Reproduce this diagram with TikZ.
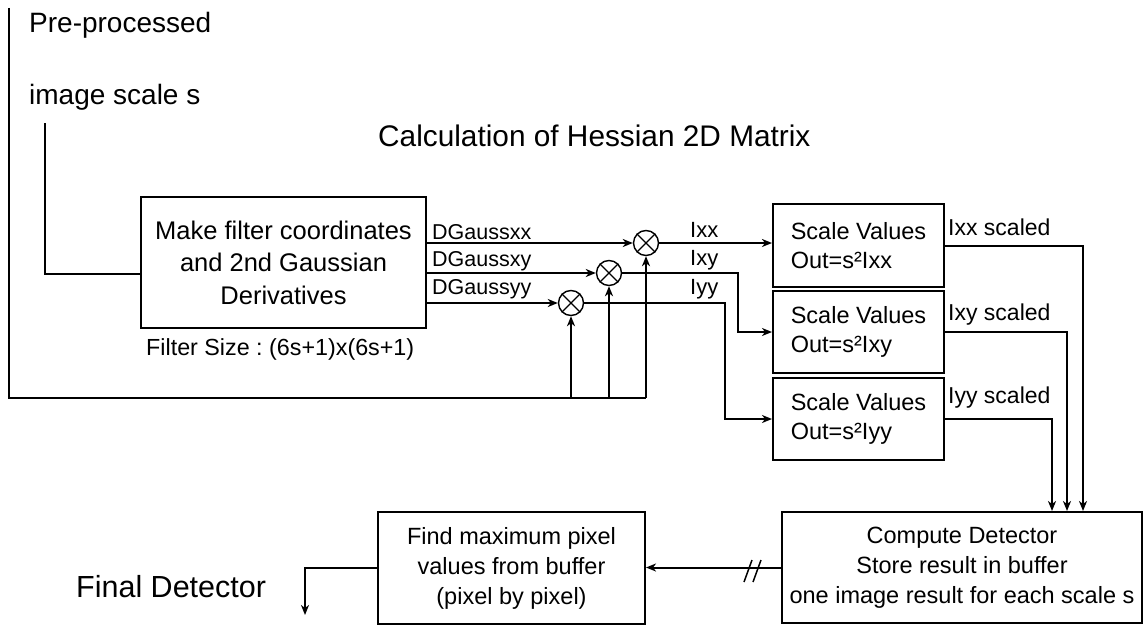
\documentclass[tikz,border=0pt]{standalone}
\usepackage{fontspec}
\setmainfont{Liberation Sans}
\usetikzlibrary{arrows.meta,calc}
\tikzset{
  box/.style={draw, line width=2pt, inner sep=0pt, align=center},
  mult/.style={draw, circle, line width=1.4pt, minimum size=25pt, inner sep=0pt},
  conn/.style={line width=2pt},
  arr/.style={conn, -{Stealth[length=10pt,width=8pt,inset=3pt]}},
  lbl/.style={anchor=base west, inner sep=0pt},
  bigtxt/.style={font=\fontsize{28}{34}\selectfont},
  boxtxt/.style={font=\fontsize{23.5}{30}\selectfont},
  smalltxt/.style={font=\fontsize{21.5}{26}\selectfont},
}
\frenchspacing
\begin{document}
\begin{tikzpicture}[x=1pt,y=-1pt]
\useasboundingbox (0,0) rectangle (1145,626);
% texts
\node[lbl,bigtxt] (pre) at (29,33) {Pre-processed};
\node[lbl,bigtxt] (isc) at (29,104) {image scale s};
\node[lbl,font=\fontsize{29.8}{34}\selectfont] (title) at (378,146) {Calculation of Hessian 2D Matrix};
\node[lbl,font=\fontsize{30.5}{34}\selectfont] (final) at (76,597) {Final Detector};
% boxes
\node[box,minimum width=285pt,minimum height=131pt,font=\fontsize{25.5}{32.5}\selectfont] (mf) at (283.5,262.5) {Make filter coordinates\\and 2nd Gaussian\\Derivatives};
\node[lbl,font=\fontsize{23.3}{26}\selectfont] (fs) at (146,355) {Filter Size : (6s+1)x(6s+1)};
\node[box,boxtxt,align=left,minimum width=171pt,minimum height=83pt,font=\fontsize{23.5}{29}\selectfont] (sc1) at (858.5,245.5) {Scale Values\\Out=s²Ixx};
\node[box,boxtxt,align=left,minimum width=171pt,minimum height=82pt,font=\fontsize{23.5}{29}\selectfont] (sc2) at (858.5,332) {Scale Values\\Out=s²Ixy};
\node[box,boxtxt,align=left,minimum width=171pt,minimum height=82pt,font=\fontsize{23.5}{29}\selectfont] (sc3) at (858.5,419) {Scale Values\\Out=s²Iyy};
\node[box,boxtxt,minimum width=360pt,minimum height=111pt] (cd) at (962,567.5) {Compute Detector\\Store result in buffer\\one image result for each scale s};
\node[box,boxtxt,minimum width=267pt,minimum height=112pt] (fm) at (511.5,568) {Find maximum pixel\\values from buffer\\(pixel by pixel)};
% multipliers
\node[mult] (m1) at (646,243) {};
\node[mult] (m2) at (609,273) {};
\node[mult] (m3) at (571,303) {};
\foreach \m in {m1,m2,m3}
  \draw[line width=1.2pt] (\m.north west) -- (\m.south east) (\m.north east) -- (\m.south west);
% coordinates
\coordinate (tl) at (9,8);
\coordinate (bl) at (9,398);
\coordinate (s0) at (45,123);
\coordinate (mfin) at (141,274);
\coordinate (k2) at (738,0);
\coordinate (k3) at (725,0);
\coordinate (x1) at (1083,0);
\coordinate (x2) at (1067,0);
\coordinate (x3) at (1052,0);
\coordinate (fd) at (305,615);
% scale line
\draw[conn] (s0) |- (mfin);
% left loop line
\draw[conn] (tl) -- (bl) -- (m1 |- bl);
\draw[arr] (m3 |- bl) -- (m3);
\draw[arr] (m2 |- bl) -- (m2);
\draw[arr] (m1 |- bl) -- (m1);
% DGauss
\draw[arr] (mf.east |- m1) -- (m1);
\draw[arr] (mf.east |- m2) -- (m2);
\draw[arr] (mf.east |- m3) -- (m3);
\node[lbl,smalltxt] (lxx) at (432,239) {DGaussxx};
\node[lbl,smalltxt] (lxy) at (432,266) {DGaussxy};
\node[lbl,smalltxt] (lyy) at (432,294) {DGaussyy};
% products
\draw[arr] (m1) -- (sc1.west |- m1);
\draw[arr] (m2) -- (m2 -| k2) -- (k2 |- sc2) -- (sc2.west);
\draw[arr] (m3) -- (m3 -| k3) -- (k3 |- sc3) -- (sc3.west);
\node[lbl,font=\fontsize{22}{26}\selectfont] (ixx) at (690,237) {Ixx};
\node[lbl,font=\fontsize{22}{26}\selectfont] (ixy) at (690,265) {Ixy};
\node[lbl,font=\fontsize{22}{26}\selectfont] (iyy) at (690,294) {Iyy};
% scaled
\draw[arr] (sc1.east) -| (cd.north -| x1);
\draw[arr] (sc2.east) -| (cd.north -| x2);
\draw[arr] (sc3.east) -| (cd.north -| x3);
\node[lbl,font=\fontsize{23}{26}\selectfont] (sxx) at (948,235) {Ixx scaled};
\node[lbl,font=\fontsize{23}{26}\selectfont] (sxy) at (948,320) {Ixy scaled};
\node[lbl,font=\fontsize{23}{26}\selectfont] (syy) at (948,403) {Iyy scaled};
% compute -> find
\draw[arr] (cd.west) -- (fm.east |- cd.west);
\draw[line width=1.5pt] (744,582) -- (752,560) (753,582) -- (761,560);
% final
\draw[arr] (fm.west) -| (fd);
\end{tikzpicture}
\end{document}
